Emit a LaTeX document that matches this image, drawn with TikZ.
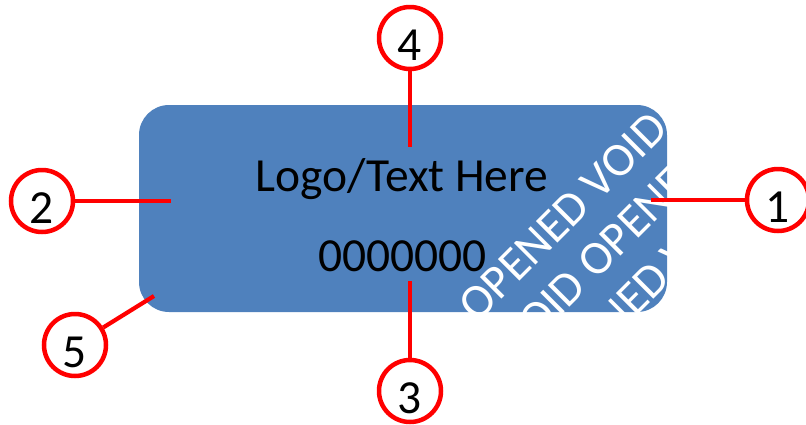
\documentclass[tikz,border=0pt]{standalone}
\usepackage{fontspec}
\setmainfont{Carlito}
\definecolor{labelblue}{HTML}{4F81BD}
\begin{document}
\begin{tikzpicture}[x=1pt,y=-1pt,
  bigfont/.style={font=\fontsize{47.5}{52}\selectfont},
  callout/.style={circle,draw=red,line width=4.5pt,fill=white,minimum size=62pt,inner sep=0pt,
    text height=44pt,text depth=0pt,bigfont,text=black},
  leader/.style={draw=red,line width=4.2pt},
  wm/.style={bigfont,text=white,rotate=45,inner sep=0pt},
  maintext/.style={bigfont,text=black,inner sep=0pt,anchor=base}]
\useasboundingbox (0,0) rectangle (806,424);
% the label
\node (label) [fill=labelblue, rounded corners=30pt, minimum width=528pt, minimum height=207pt,
  inner sep=0pt] at (403,208.5) {};
% watermark
\begin{scope}
  \clip[rounded corners=30pt] (label.north west) rectangle (label.south east);
  \foreach \px/\py [count=\i] in {477.4/323.6, 596.4/280.6, 557.4/395.6} {
    \node[wm, anchor=base west] (wa\i) at (\px,\py) {OPENED VOID OPENED VOID};
    \node[wm, anchor=base east] (wb\i) at (\px,\py) {OPENED VOID\hspace*{\fontdimen2\font}};
  }
\end{scope}
% texts
\node[maintext] (logo) at (402,191) {Logo/Text Here};
\node[maintext] (serial) at (402.5,271) {0000000};
% callouts
\node[callout] (c4) at (410,38) {4};
\node[callout] (c3) at (410,391) {3};
\node[callout] (c2) at (42,201) {2};
\node[callout] (c1) at (778,200) {1};
\node[callout] (c5) at (75,345) {5};
\coordinate (p4) at (410,147);
\coordinate (p3) at (410,281);
\coordinate (p2) at (171,201);
\coordinate (p1) at (651,200);
\coordinate (p5) at (154,296);
\draw[leader] (c4) -- (p4);
\draw[leader] (c3) -- (p3);
\draw[leader] (c2) -- (p2);
\draw[leader] (c1) -- (p1);
\draw[leader] (c5) -- (p5);
\end{tikzpicture}
\end{document}
